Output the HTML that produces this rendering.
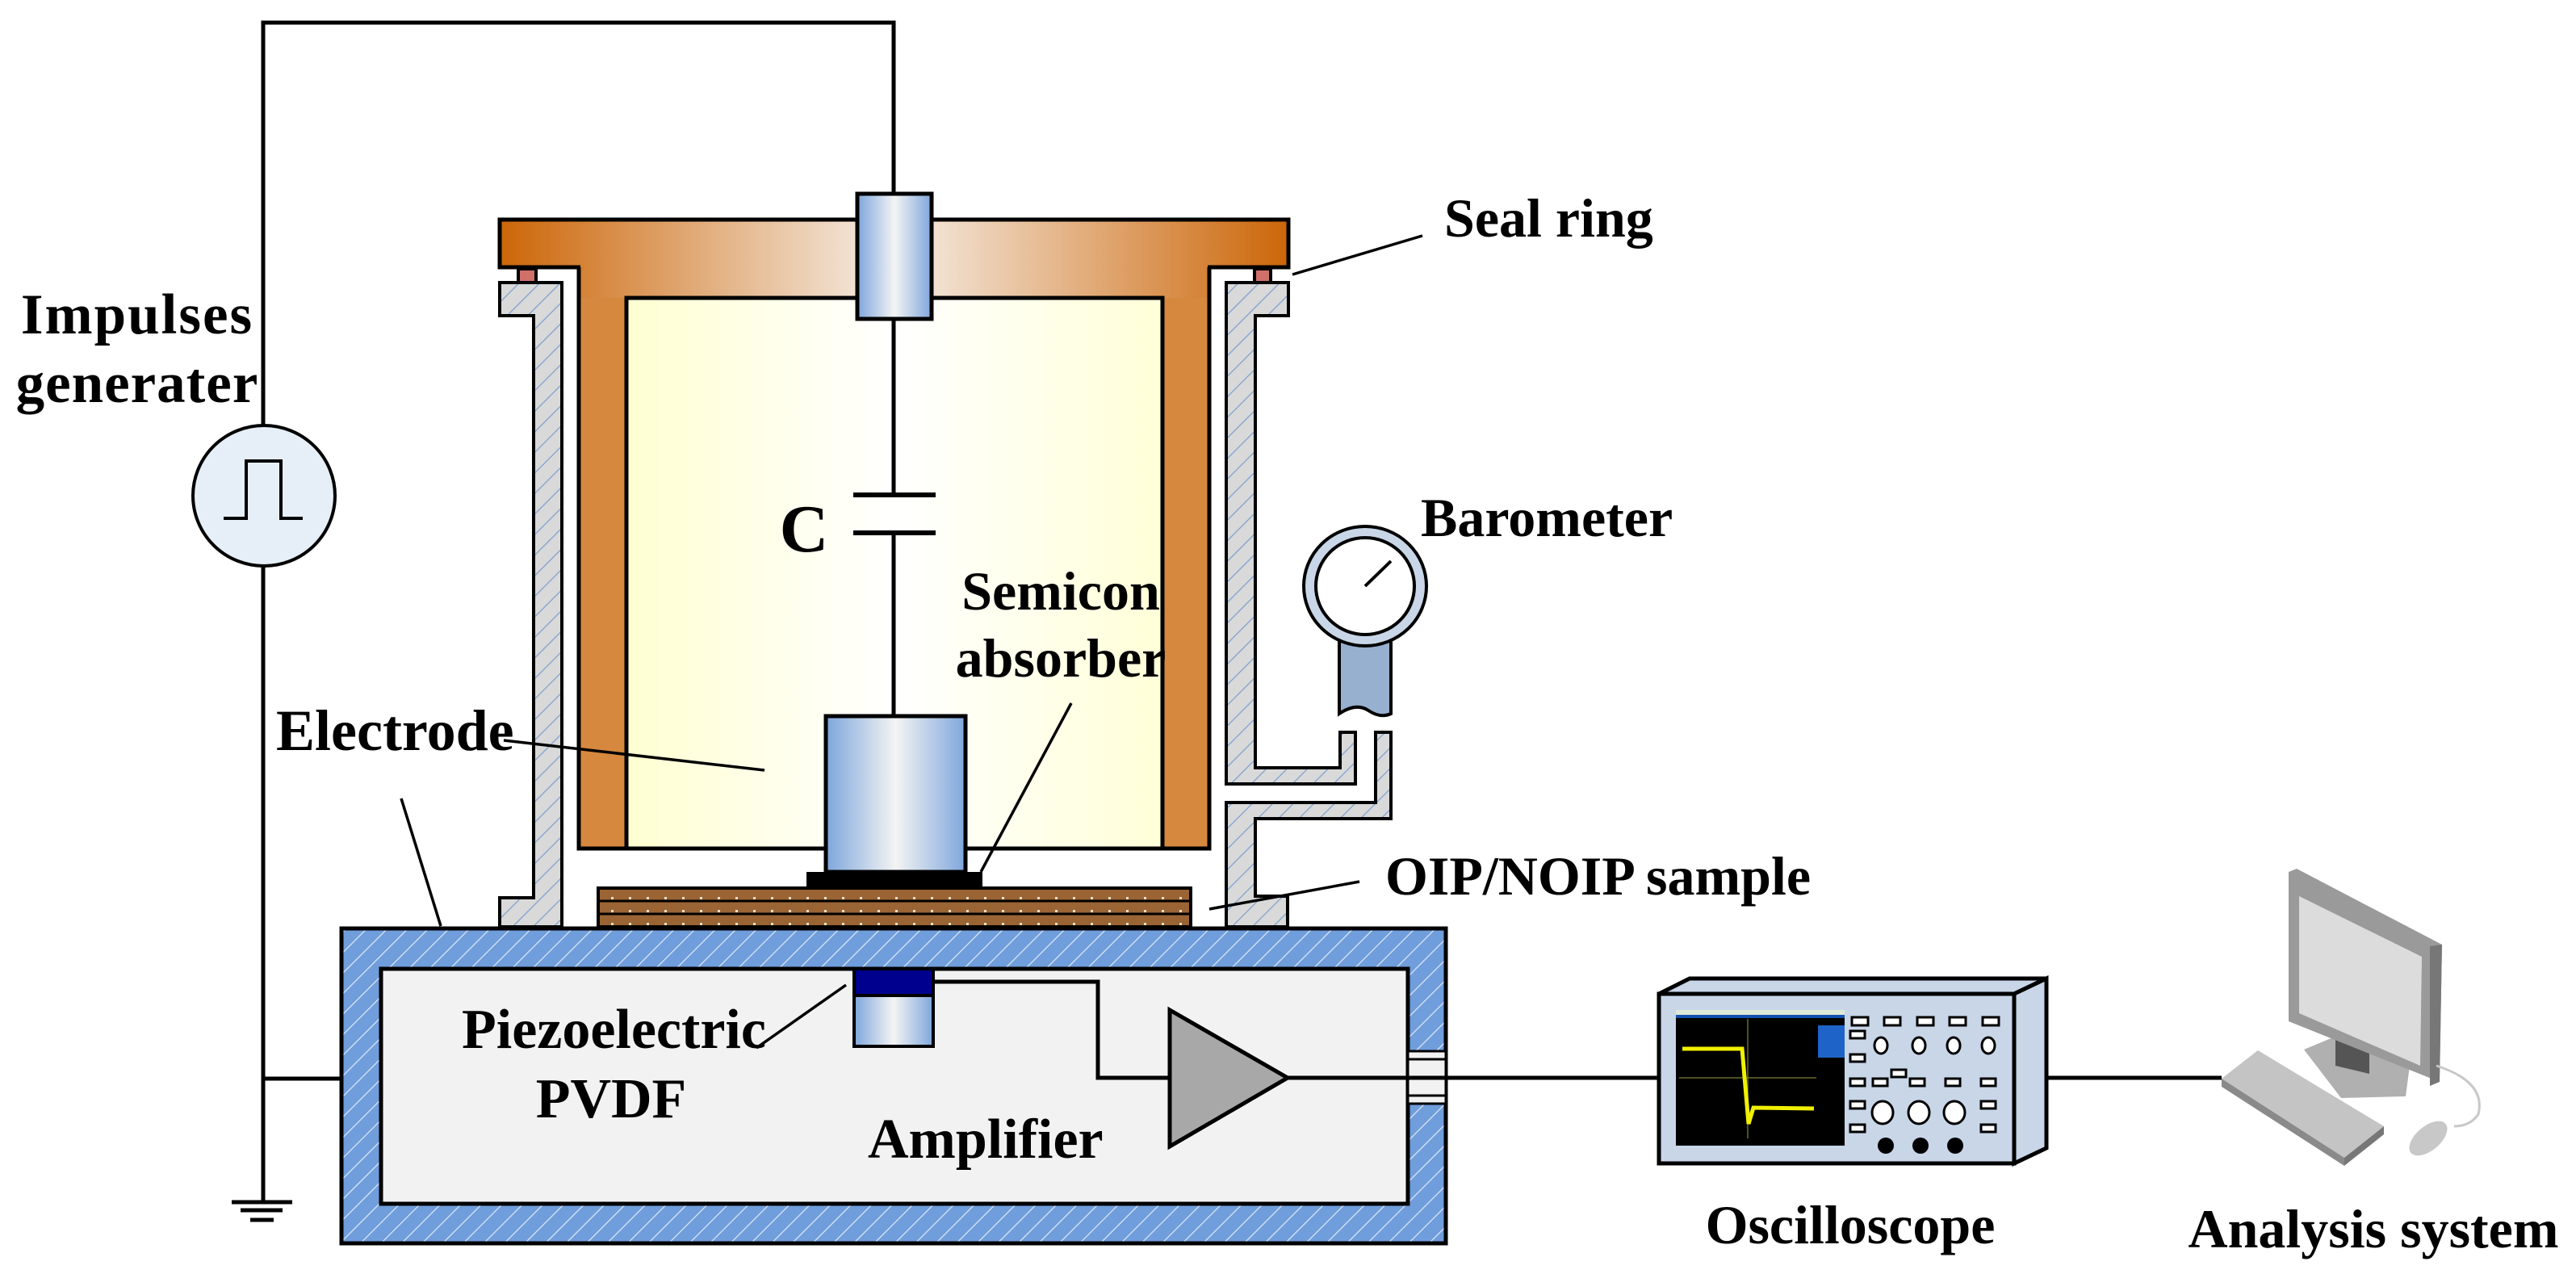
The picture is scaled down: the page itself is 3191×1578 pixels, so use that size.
<!DOCTYPE html>
<html><head><meta charset="utf-8"><style>html,body{margin:0;padding:0;background:#fff}svg{display:block}text{font-family:"Liberation Serif",serif;font-weight:bold;fill:#000}</style></head><body>
<svg width="3191" height="1578" viewBox="0 0 3191 1578" xmlns="http://www.w3.org/2000/svg">
<defs>
<pattern id="hg" patternUnits="userSpaceOnUse" width="18" height="18" patternTransform="rotate(45)"><rect width="18" height="18" fill="#d9d9d9"/><line x1="0" y1="0" x2="0" y2="18" stroke="#7f9fd0" stroke-width="2.5"/></pattern>
<pattern id="hb" patternUnits="userSpaceOnUse" width="18" height="18" patternTransform="rotate(45)"><rect width="18" height="18" fill="#709ddb"/><line x1="0" y1="0" x2="0" y2="18" stroke="#dce8f8" stroke-width="2.5"/></pattern>
<linearGradient id="lid" gradientUnits="userSpaceOnUse" x1="619" y1="0" x2="1596" y2="0"><stop offset="0" stop-color="#cc6608"/><stop offset="0.5" stop-color="#f6efe8"/><stop offset="1" stop-color="#cc6608"/></linearGradient>
<linearGradient id="cream" x1="0" x2="1"><stop offset="0" stop-color="#ffffd2"/><stop offset="0.5" stop-color="#ffffff"/><stop offset="1" stop-color="#ffffd8"/></linearGradient>
<linearGradient id="cyl" x1="0" x2="1"><stop offset="0" stop-color="#7ea6dc"/><stop offset="0.5" stop-color="#f4f4f4"/><stop offset="1" stop-color="#7ea6dc"/></linearGradient>
<pattern id="dots" patternUnits="userSpaceOnUse" width="22" height="16"><rect width="22" height="16" fill="#9a6434"/><rect x="9" y="7" width="3" height="3" fill="#f0e0c8"/></pattern>
</defs>

<!-- lid -->
<path d="M619,272 H1596 V331 H1498 V1051 H717 V331 H619 Z" fill="#d5883e" stroke="#000" stroke-width="5"/>
<rect x="619" y="272" width="977" height="59" fill="url(#lid)" stroke="#000" stroke-width="5"/>
<rect x="719" y="328" width="777" height="41" fill="url(#lid)"/>
<line x1="717" y1="331" x2="717" y2="1051" stroke="#000" stroke-width="5"/>
<line x1="1498" y1="331" x2="1498" y2="1051" stroke="#000" stroke-width="5"/>
<rect x="776" y="369" width="664" height="682" fill="url(#cream)" stroke="#000" stroke-width="5"/>
<line x1="717" y1="1051" x2="1498" y2="1051" stroke="#000" stroke-width="5"/>
<!-- seal rings -->
<rect x="642" y="333" width="22" height="17" fill="#d07068" stroke="#000" stroke-width="4"/>
<rect x="1554" y="333" width="20" height="17" fill="#d07068" stroke="#000" stroke-width="4"/>

<!-- wires -->
<g stroke="#000" stroke-width="5" fill="none">
<polyline points="326,526 326,28 1107,28 1107,240"/>
<line x1="326" y1="702" x2="326" y2="1489"/>
<line x1="326" y1="1336" x2="423" y2="1336"/>
<line x1="287" y1="1489" x2="362" y2="1489"/>
<line x1="298" y1="1499" x2="350" y2="1499"/>
<line x1="310" y1="1511" x2="339" y2="1511"/>
<line x1="1107" y1="395" x2="1107" y2="613"/>
<line x1="1107" y1="660" x2="1107" y2="887"/>
</g>
<!-- impulse generator -->
<ellipse cx="327" cy="614" rx="88" ry="87" fill="#e6eef8" stroke="#000" stroke-width="4"/>
<polyline points="277,642 305,642 305,571 348,571 348,642 375,642" fill="none" stroke="#000" stroke-width="4"/>

<!-- connector -->
<rect x="1062" y="240" width="92" height="155" fill="url(#cyl)" stroke="#000" stroke-width="5"/>
<!-- capacitor -->
<line x1="1057" y1="613" x2="1159" y2="613" stroke="#000" stroke-width="6"/>
<line x1="1057" y1="660" x2="1159" y2="660" stroke="#000" stroke-width="6"/>
<text x="996" y="683" font-size="84" text-anchor="middle">C</text>

<!-- left wall -->
<path d="M619,350 H696 V1148 H619 V1112 H661 V391 H619 Z" fill="url(#hg)" stroke="#000" stroke-width="4"/>
<!-- right wall upper -->
<path d="M1519,350 H1596 V391 H1555 V951 H1660 V907 H1679 V971 H1519 Z" fill="url(#hg)" stroke="#000" stroke-width="4"/>
<!-- right wall lower -->
<path d="M1519,994 H1704 V907 H1723 V1014 H1555 V1110 H1595 V1148 H1519 Z" fill="url(#hg)" stroke="#000" stroke-width="4"/>

<!-- barometer -->
<path d="M1659,790 V884 Q1680,870 1695,880 Q1710,890 1723,884 V790 Z" fill="#97b0cf" stroke="#000" stroke-width="4"/>
<ellipse cx="1691" cy="726" rx="76" ry="74" fill="#c8d6e8" stroke="#000" stroke-width="4"/>
<ellipse cx="1691" cy="726" rx="61" ry="60" fill="#fff" stroke="#000" stroke-width="4"/>
<line x1="1691" y1="726" x2="1723" y2="695" stroke="#000" stroke-width="4"/>

<!-- electrode -->
<rect x="1023" y="887" width="173" height="193" fill="url(#cyl)" stroke="#000" stroke-width="5"/>
<rect x="999" y="1080" width="218" height="19" fill="#000"/>
<!-- sample -->
<rect x="741" y="1100" width="734" height="48" fill="url(#dots)" stroke="#000" stroke-width="4"/>
<line x1="741" y1="1116" x2="1475" y2="1116" stroke="#000" stroke-width="3"/>
<line x1="741" y1="1132" x2="1475" y2="1132" stroke="#000" stroke-width="3"/>

<!-- base box -->
<rect x="423" y="1150" width="1368" height="390" fill="url(#hb)" stroke="#000" stroke-width="5"/>
<rect x="472" y="1200" width="1272" height="291" fill="#f2f2f2" stroke="#000" stroke-width="5"/>
<rect x="1744" y="1302" width="47" height="65" fill="#f2f2f2" stroke="#000" stroke-width="3"/>
<line x1="1744" y1="1312" x2="1791" y2="1312" stroke="#000" stroke-width="3"/>
<line x1="1744" y1="1357" x2="1791" y2="1357" stroke="#000" stroke-width="3"/>
<!-- piezo -->
<rect x="1058" y="1200" width="98" height="96" fill="url(#cyl)" stroke="#000" stroke-width="4"/>
<rect x="1058" y="1200" width="98" height="33" fill="#00008f" stroke="#000" stroke-width="4"/>
<polyline points="1156,1216 1360,1216 1360,1335 1449,1335" fill="none" stroke="#000" stroke-width="5"/>
<polygon points="1449,1251 1595,1335 1449,1420" fill="#a8a8a8" stroke="#000" stroke-width="5"/>
<line x1="1595" y1="1335" x2="2056" y2="1335" stroke="#000" stroke-width="5"/>
<line x1="2535" y1="1335" x2="2752" y2="1335" stroke="#000" stroke-width="5"/>

<!-- leaders -->
<g stroke="#000" stroke-width="3.5">
<line x1="624" y1="917" x2="947" y2="954"/>
<line x1="497" y1="989" x2="546" y2="1147"/>
<line x1="1327" y1="871" x2="1215" y2="1080"/>
<line x1="1762" y1="292" x2="1601" y2="340"/>
<line x1="1684" y1="1092" x2="1498" y2="1126"/>
<line x1="937" y1="1298" x2="1048" y2="1220"/>
</g>

<!-- oscilloscope -->
<polygon points="2055,1231 2093,1212 2535,1212 2495,1231" fill="#c8d6e8" stroke="#000" stroke-width="5"/>
<polygon points="2495,1231 2535,1212 2535,1422 2495,1441" fill="#c8d6e8" stroke="#000" stroke-width="5"/>
<rect x="2055" y="1231" width="440" height="210" fill="#c8d6e8" stroke="#000" stroke-width="5"/>
<rect x="2076" y="1251" width="209" height="168" fill="#000"/>
<rect x="2076" y="1251" width="209" height="6" fill="#dfe8d8"/>
<rect x="2076" y="1257" width="209" height="4" fill="#1450b0"/>
<rect x="2252" y="1270" width="33" height="40" fill="#1e64c8"/>
<line x1="2080" y1="1335" x2="2250" y2="1335" stroke="#6b6b2a" stroke-width="1.5"/>
<line x1="2165" y1="1262" x2="2165" y2="1410" stroke="#6b6b2a" stroke-width="1.5"/>
<polyline points="2084,1299 2158,1299 2166,1392 2172,1372 2247,1373" fill="none" stroke="#f0f000" stroke-width="5"/>
<g fill="#fff" stroke="#000" stroke-width="3">
<rect x="2294" y="1260" width="20" height="10"/><rect x="2334" y="1260" width="20" height="10"/><rect x="2375" y="1260" width="20" height="10"/><rect x="2415" y="1260" width="20" height="10"/><rect x="2456" y="1260" width="20" height="10"/>
<rect x="2292" y="1277" width="18" height="9"/><rect x="2292" y="1306" width="18" height="9"/><rect x="2292" y="1336" width="18" height="9"/><rect x="2320" y="1336" width="18" height="9"/><rect x="2343" y="1325" width="18" height="9"/><rect x="2366" y="1336" width="18" height="9"/><rect x="2410" y="1336" width="18" height="9"/><rect x="2454" y="1336" width="18" height="9"/>
<rect x="2292" y="1364" width="18" height="9"/><rect x="2292" y="1393" width="18" height="9"/><rect x="2454" y="1364" width="18" height="9"/><rect x="2454" y="1393" width="18" height="9"/>
<ellipse cx="2330" cy="1295" rx="8" ry="10"/><ellipse cx="2377" cy="1295" rx="8" ry="10"/><ellipse cx="2420" cy="1295" rx="8" ry="10"/><ellipse cx="2463" cy="1295" rx="8" ry="10"/>
<ellipse cx="2332" cy="1378" rx="13" ry="14"/><ellipse cx="2377" cy="1378" rx="13" ry="14"/><ellipse cx="2421" cy="1378" rx="13" ry="14"/>
</g>
<ellipse cx="2336" cy="1419" rx="10" ry="10" fill="#000"/><ellipse cx="2379" cy="1419" rx="10" ry="10" fill="#000"/><ellipse cx="2422" cy="1419" rx="10" ry="10" fill="#000"/>

<!-- computer -->
<polygon points="2854,1300 2890,1285 2985,1320 2980,1358 2900,1360" fill="#b0b0b0"/>
<polygon points="2893,1270 2935,1285 2935,1330 2893,1320" fill="#555"/>
<polygon points="2835,1080 2845,1076 3025,1170 3022,1340 2835,1265" fill="#9a9a9a"/>
<polygon points="3010,1172 3025,1170 3022,1340 3010,1345" fill="#777"/>
<polygon points="2848,1110 3000,1185 2998,1320 2848,1255" fill="#dcdcdc"/>
<polygon points="2752,1336 2797,1301 2953,1395 2904,1434" fill="#c4c4c4"/>
<polygon points="2752,1336 2904,1434 2904,1444 2752,1346" fill="#8a8a8a"/>
<polygon points="2904,1434 2953,1395 2953,1405 2904,1444" fill="#777"/>
<path d="M3018,1320 Q3080,1340 3070,1380 Q3060,1395 3040,1395" fill="none" stroke="#c8c8c8" stroke-width="3"/>
<ellipse cx="3008" cy="1410" rx="28" ry="15" transform="rotate(-40 3008 1410)" fill="#c8c8c8"/>

<!-- labels -->
<text x="170" y="413" font-size="71" text-anchor="middle" letter-spacing="2">Impulses</text>
<text x="170" y="498" font-size="71" text-anchor="middle" letter-spacing="1">generater</text>
<text x="342" y="929" font-size="72">Electrode</text>
<text x="1314" y="755" font-size="68" text-anchor="middle">Semicon</text>
<text x="1314" y="838" font-size="68" text-anchor="middle">absorber</text>
<text x="1789" y="293" font-size="68">Seal ring</text>
<text x="1760" y="664" font-size="68">Barometer</text>
<text x="1716" y="1108" font-size="68">OIP/NOIP sample</text>
<text x="572" y="1298" font-size="70">Piezoelectric</text>
<text x="757" y="1384" font-size="70" text-anchor="middle">PVDF</text>
<text x="1075" y="1434" font-size="70">Amplifier</text>
<text x="2292" y="1540" font-size="68" text-anchor="middle">Oscilloscope</text>
<text x="2940" y="1545" font-size="68" text-anchor="middle">Analysis system</text>
</svg>
</body></html>
